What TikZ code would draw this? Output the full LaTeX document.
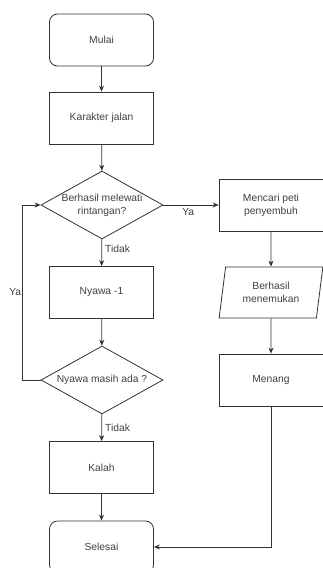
\documentclass[tikz,border=0pt]{standalone}
\usepackage{fontspec}
\setmainfont{Liberation Sans}
\usetikzlibrary{shapes,arrows.meta,positioning}

\begin{document}
\begin{tikzpicture}[x=1pt,y=-1pt,
		teks/.style={font=\fontsize{10.3}{13}\selectfont,text=black!75},
		kotak/.style={draw=black!80,line width=0.8pt,teks,minimum width=104pt,minimum height=52pt,align=center},
		ujung/.style={kotak,rounded corners=8pt},
		cek/.style={draw=black!80,line width=0.8pt,teks,diamond,aspect=1.8,inner sep=0pt,minimum width=122pt,minimum height=68pt,align=center},
		data/.style={draw=black!80,line width=0.8pt,teks,trapezium,trapezium left angle=81,trapezium right angle=99,trapezium stretches=true,minimum width=104pt,minimum height=51pt,inner xsep=2pt,align=center},
		ket/.style={teks,inner sep=3pt},
		panah/.style={->,>={Stealth[length=6pt,width=5pt]},draw=black!80,line width=0.8pt}]
	\useasboundingbox (0,0) rectangle (323,568);

	% kolom kiri
	\node[ujung] (mulai) at (101.5,40) {Mulai};
	\node[kotak] (jalan) at (101.5,118) {Karakter jalan};
	\node[cek] (rintangan) at (102,205) {Berhasil melewati\\rintangan?};
	\node[kotak] (nyawa) at (101.5,292.5) {Nyawa -1};
	\node[cek] (masih) at (102,380) {Nyawa masih ada ?};
	\node[kotak] (kalah) at (101.5,467.5) {Kalah};
	\node[ujung] (selesai) at (101.5,547) {Selesai};

	% kolom kanan
	\node[kotak] (peti) at (271,205) {Mencari peti\\penyembuh};
	\node[data] (temu) at (271,292.5) {Berhasil\\menemukan};
	\node[kotak] (menang) at (271,380) {Menang};

	\path[panah]
		(mulai) edge (jalan)
		(jalan) edge (rintangan)
		(rintangan) edge node[ket,below,pos=0.45] {Ya} (peti)
		(rintangan) edge node[ket,right,pos=0.36] {Tidak} (nyawa)
		(nyawa) edge (masih)
		(masih) edge node[ket,right,pos=0.52] {Tidak} (kalah)
		(kalah) edge (selesai)
		(peti) edge (temu)
		(temu) edge (menang);

	\draw[panah]
		(masih.west) -- ++(-18,0) coordinate (belok) |- node[ket,left,pos=0.25,inner sep=1pt] {Ya} (rintangan.west);
	\draw[panah]
		(menang.south) |- (selesai.east);
\end{tikzpicture}
\end{document}
